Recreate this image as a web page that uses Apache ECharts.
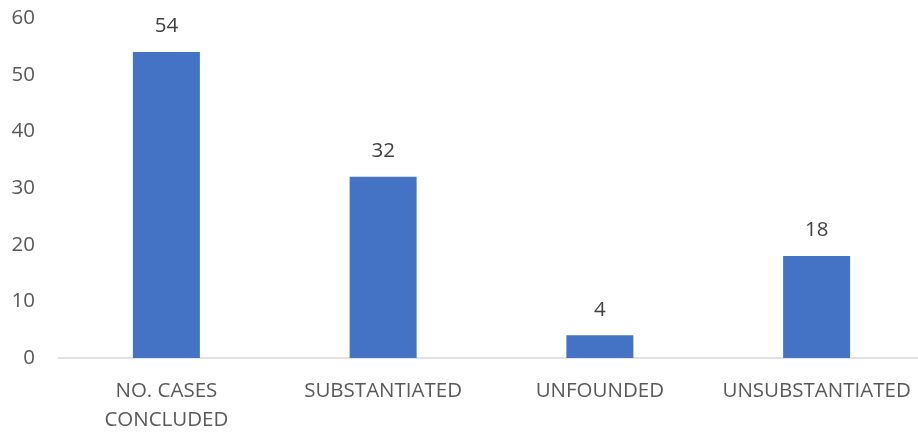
<!DOCTYPE html>
<html><head><meta charset="utf-8">
<script src="https://cdn.jsdelivr.net/npm/echarts@6/dist/echarts.min.js"></script>
<style>html,body{margin:0;padding:0;background:#fff}#c{width:918px;height:433px}</style>
</head><body><div id="c"></div>
<script>
var categories = ["NO. CASES\nCONCLUDED", "SUBSTANTIATED", "UNFOUNDED", "UNSUBSTANTIATED"];
var values = [54, 32, 4, 18];
var yTicks = [0, 10, 20, 30, 40, 50, 60];

var chart = echarts.init(document.getElementById('c'), null, {renderer: 'canvas'});
var font = "Open Sans, Liberation Sans, sans-serif";
chart.setOption({
  animation: false,
  grid: {left: 58, top: 18, width: 867, height: 340, containLabel: false, outerBoundsMode: 'none'},
  xAxis: {
    type: 'category', data: categories,
    axisLine: {show: true, lineStyle: {color: '#d9d9d9', width: 1.5}},
    axisTick: {show: false},
    axisLabel: {color: '#595959', fontSize: 20.5, fontFamily: font, margin: 19, lineHeight: 29, interval: 0}
  },
  yAxis: {
    type: 'value', min: yTicks[0], max: yTicks[yTicks.length-1], interval: 10,
    axisLine: {show: false}, axisTick: {show: false}, splitLine: {show: false},
    axisLabel: {color: '#595959', fontSize: 20.5, fontFamily: font, margin: 23}
  },
  series: [{
    type: 'bar', data: values, barWidth: 67,
    itemStyle: {color: '#4472C4'},
    label: {show: true, position: 'top', distance: 15, color: '#404040', fontSize: 20.5, fontFamily: font}
  }]
});
</script></body></html>
